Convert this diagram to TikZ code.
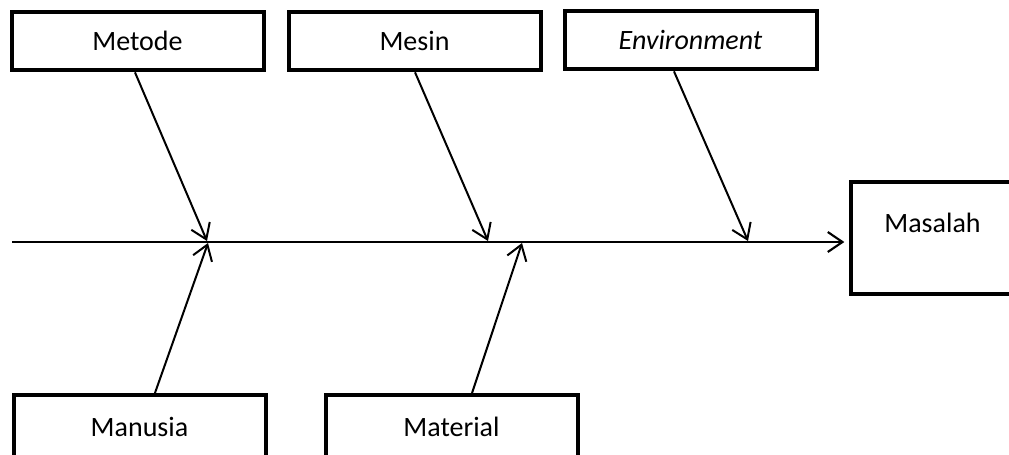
\documentclass[tikz,border=0pt]{standalone}
\usepackage{fontspec}
\setmainfont{Carlito}
\usetikzlibrary{arrows.meta}
\tikzset{
  causebox/.style={draw=black, line width=3pt, fill=white, minimum width=189pt, minimum height=44pt, inner sep=0pt, font=\fontsize{21}{25}\selectfont},
  lowbox/.style={causebox, minimum height=48pt},
  effectedge/.style={draw=black, line width=3pt, line join=miter},
  conn/.style={draw=black, line width=1.5pt, -{Straight Barb[length=11pt,width=15pt,line width=1.5pt]}},
  spine/.style={draw=black, line width=1.8pt, -{Straight Barb[length=11pt,width=15pt,line width=1.6pt]}}
}
\begin{document}
\begin{tikzpicture}[x=0.75pt,y=-0.75pt]
\useasboundingbox (0,0) rectangle (1009,454);
\clip (0,0) rectangle (1009,454);
% cause boxes
\node[causebox] (metode) at (137.5,41) {Metode};
\node[causebox] (mesin) at (414.5,41) {Mesin};
\node[causebox] (env) at (690.5,40) {\itshape Environment};
\node[lowbox] (manusia) at (139.5,427) {Manusia};
\node[lowbox] (material) at (451.5,427) {Material};
% effect box (its right side runs off the picture)
\node[minimum width=150pt, minimum height=84pt, inner sep=0pt, anchor=west] (masalah) at (851,238) {};
\draw[effectedge] (masalah.north east) -- (masalah.north west) -- (masalah.south west) -- (masalah.south east);
\node[font=\fontsize{21}{25}\selectfont, inner sep=0pt] (masalahtext) at (932.5,223) {Masalah};
% spine
\coordinate (tail) at (12,242);
\draw[spine, shorten >=5pt] (tail) -- (tail -| masalah.west);
% junctions on the spine
\coordinate (j1) at (207,241);
\coordinate (j2) at (488,241);
\coordinate (j3) at (748,241);
\coordinate (j4) at (208,243);
\coordinate (j5) at (522,243);
% connectors
\draw[conn] ([xshift=-1.9pt]metode.south) -- (j1);
\draw[conn] ([xshift=0.4pt]mesin.south) -- (j2);
\draw[conn] ([xshift=-12.4pt]env.south) -- (j3);
\draw[conn] ([xshift=11.6pt]manusia.north) -- (j4);
\draw[conn] ([xshift=15.4pt]material.north) -- (j5);
\end{tikzpicture}
\end{document}
